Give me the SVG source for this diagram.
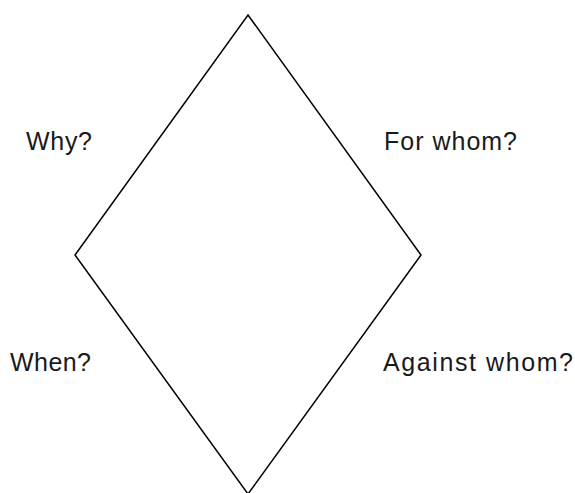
<svg xmlns="http://www.w3.org/2000/svg" width="575" height="493" viewBox="0 0 575 493">
<style>
.lbl{font-family:"Liberation Sans",Arial,sans-serif;font-size:25px;fill:#1a1a1a}
.edge{fill:none;stroke:#000;stroke-width:1.5;stroke-linejoin:miter}
</style>
<rect width="575" height="493" fill="#fff"/>
<g id="connectors">
<path class="edge" d="M248,15 L421,255 L248,494 L75,255 Z"/>
</g>
<g id="why"><text class="lbl" x="26" y="150" textLength="66" lengthAdjust="spacing">Why?</text></g>
<g id="forwhom"><text class="lbl" x="384" y="150" textLength="133" lengthAdjust="spacing">For whom?</text></g>
<g id="when"><text class="lbl" x="10" y="371" textLength="81" lengthAdjust="spacing">When?</text></g>
<g id="againstwhom"><text class="lbl" x="383" y="371" textLength="190" lengthAdjust="spacing">Against whom?</text></g>
</svg>
